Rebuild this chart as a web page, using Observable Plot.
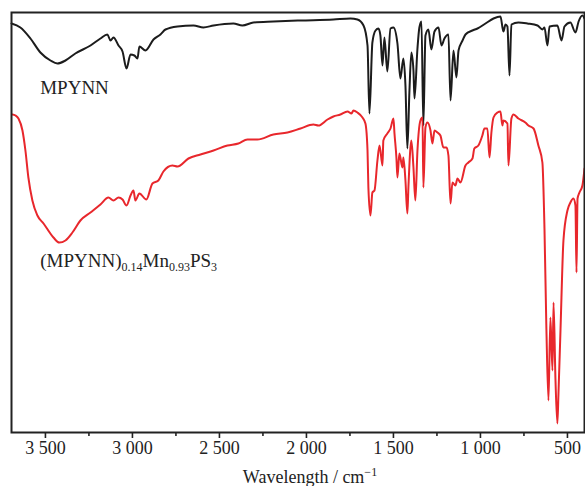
<!DOCTYPE html>
<html><head><meta charset="utf-8">
<script src="https://cdn.jsdelivr.net/npm/d3@7"></script>
<script src="https://cdn.jsdelivr.net/npm/@observablehq/plot@0.6"></script>
<style>body{margin:0;background:#fff;} svg{display:block;}</style>
</head><body><div id="chart"></div>
<script>
// MPYNN (black) — wavenumber (cm-1) and transmittance (a.u.)
const blackWn = [3695,3644,3586,3529,3471,3431,3385,3328,3241,3184,3144,3126,3109,3080,3057,3034,3011,2989,2971,2960,2925,2879,2839,2810,2741,2649,2592,2534,2420,2368,2305,2190,2034,1845,1747,1707,1672,1649,1638,1621,1603,1586,1575,1563,1552,1535,1517,1500,1477,1460,1443,1431,1420,1408,1397,1385,1379,1362,1351,1339,1328,1316,1299,1282,1264,1241,1224,1207,1184,1172,1155,1138,1126,1103,1086,1046,1017,971,925,885,868,856,845,833,822,782,730,672,644,632,615,603,558,534,517,483,454,436,414,402];
const blackT  = [409,405,394,380,372,369,372,379,387,394,398,392,395,387,381,364,378,377,374,386,382,393,398,403,406,407,405,407,409,407,410,411,412,413,414,413,407,387,319,390,402,404,397,367,395,361,404,405,389,354,374,347,284,342,380,362,334,384,405,411,307,397,403,383,401,405,387,394,398,332,382,355,382,392,398,402,404,409,414,416,401,408,406,357,408,410,409,407,403,405,387,406,407,392,406,410,400,411,417,414];

// (MPYNN)0.14Mn0.93PS3 (red)
const redWn = [3690,3672,3655,3632,3615,3598,3575,3546,3511,3454,3420,3385,3345,3299,3241,3184,3138,3109,3080,3057,3034,3011,2994,2983,2960,2920,2885,2851,2822,2770,2741,2678,2609,2534,2454,2391,2339,2282,2190,2109,2034,1960,1931,1879,1845,1805,1764,1741,1730,1707,1678,1661,1649,1644,1632,1621,1609,1592,1580,1563,1558,1535,1517,1500,1494,1483,1477,1466,1448,1443,1431,1420,1414,1397,1385,1374,1362,1345,1333,1328,1316,1305,1287,1276,1264,1247,1230,1213,1195,1184,1172,1161,1144,1132,1115,1086,1069,1046,1035,1012,989,977,960,948,937,925,902,885,874,868,845,839,822,810,782,742,724,695,667,644,632,621,609,598,586,580,569,558,552,540,523,500,483,466,454,448,442,431,414,402];
const redT  = [318,317,314,302,282,255,232,217,209,195,190,192,200,212,220,228,235,232,235,233,227,237,242,232,239,233,249,252,261,267,266,274,278,282,287,289,293,293,298,300,304,308,307,313,316,318,321,319,322,320,315,309,282,245,217,240,242,272,287,267,292,299,304,314,299,275,255,279,265,275,252,219,245,292,265,232,282,312,315,245,305,310,302,289,302,300,297,285,285,277,229,250,247,254,250,267,270,274,284,287,297,304,304,275,300,315,320,321,307,312,309,267,314,318,314,310,307,304,287,270,204,104,32,115,62,130,54,9,37,102,192,222,230,234,227,160,234,240,247,264];

const majorTicks = [3500,3000,2500,2000,1500,1000,500];
const minorTicks = [3250,2750,2250,1750,1250,750];

const labelText = ["MPYNN", "(MPYNN)0.14Mn0.93PS3"];
const labelWn = [3530, 3530];
const labelT = [339, 166];
const axisTitle = "Wavelength / cm";

const black = blackWn.map((w, i) => ({wn: w, t: blackT[i]}));
const red = redWn.map((w, i) => ({wn: w, t: redT[i]}));
const labels = labelText.map((s, i) => ({text: s, wn: labelWn[i], t: labelT[i]}));
const fmt = d => d3.format(",")(d).replace(",", " ");
const serif = "'Liberation Serif', 'Times New Roman', serif";

const chart = Plot.plot({
  width: 585, height: 486,
  marginLeft: 11, marginRight: 1, marginTop: 12, marginBottom: 54,
  style: {fontFamily: serif, fontSize: "18px", color: "#222", background: "#fff"},
  x: {domain: [3695, 402]},
  y: {domain: [0, 420], axis: null},
  marks: [
    Plot.axisX(minorTicks, {tickSize: 4, tickFormat: () => "", label: null, strokeWidth: 1.6}),
    Plot.axisX(majorTicks, {tickSize: 6, tickPadding: 3, tickFormat: fmt, label: null, strokeWidth: 1.6, fontSize: 18}),
    Plot.line(black, {x: "wn", y: "t", stroke: "#1c1c1c", strokeWidth: 2, curve: "monotone-x"}),
    Plot.line(red, {x: "wn", y: "t", stroke: "#e8272c", strokeWidth: 2, curve: "monotone-x"}),
    Plot.text(labels, {x: "wn", y: "t", text: "text", textAnchor: "start", lineAnchor: "bottom", fontSize: 19, fill: "#222", className: "lbl"}),
    Plot.text([axisTitle], {frameAnchor: "bottom", dx: 12, dy: 50, lineAnchor: "bottom", fontSize: 18, fill: "#222", className: "ttl"}),
    Plot.frame({stroke: "#222", strokeWidth: 2})
  ]
});
document.getElementById("chart").appendChild(chart);

// subscripts in the compound label
d3.select(chart).selectAll(".lbl text").each(function() {
  const s = this.textContent;
  if (!/\d/.test(s)) return;
  const parts = s.split(/(\d[\d.]*)/);
  const el = d3.select(this);
  el.text("");
  let shifted = false;
  parts.forEach((p, i) => {
    if (!p) return;
    const sub = i % 2 === 1;
    const t = el.append("tspan").text(p);
    if (sub) { t.attr("font-size", 12).attr("dy", shifted ? 0 : 4); shifted = true; }
    else { t.attr("dy", shifted ? -4 : 0); shifted = false; }
  });
});
// superscript on axis title
d3.select(chart).selectAll(".ttl text").each(function() {
  d3.select(this).append("tspan").attr("font-size", 12).attr("dy", -7).text("\u22121");
});
</script></body></html>
